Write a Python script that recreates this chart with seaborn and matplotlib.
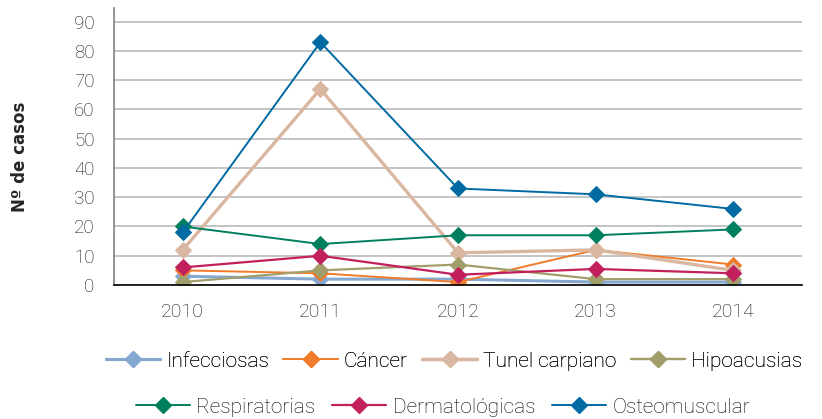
import numpy as np
import pandas as pd
import matplotlib
matplotlib.use('Agg')
import matplotlib.pyplot as plt
import seaborn as sns
from matplotlib.lines import Line2D

# Data
years = ['2010', '2011', '2012', '2013', '2014']
infecciosas = [3, 2, 2, 1, 1]
cancer = [5, 4, 1, 12, 7]
tunel_carpiano = [12, 67, 11, 12, 5]
hipoacusias = [1, 5, 7, 2, 2]
respiratorias = [20, 14, 17, 17, 19]
dermatologicas = [6, 10, 3.5, 5.5, 4]
osteomuscular = [18, 83, 33, 31, 26]

series_names = ['Infecciosas', 'Cáncer', 'Tunel carpiano', 'Hipoacusias',
                'Respiratorias', 'Dermatológicas', 'Osteomuscular']
series_values = [infecciosas, cancer, tunel_carpiano, hipoacusias,
                 respiratorias, dermatologicas, osteomuscular]
colors = ['#84A8CF', '#F07B2A', '#D9B7A1', '#A29E6B',
          '#007F5F', '#C2205D', '#006AA2']
widths = [2.2, 1.4, 2.4, 1.6, 1.4, 1.6, 1.4]

rows = []
for name, vals in zip(series_names, series_values):
    for i, v in enumerate(vals):
        rows.append({'serie': name, 'pos': i, 'casos': v})
df = pd.DataFrame(rows)

sns.set_style('white')
plt.rcParams['font.family'] = ['Roboto', 'DejaVu Sans']
plt.rcParams['font.weight'] = 'light'

fig = plt.figure(figsize=(8.22, 4.19), dpi=100)
ax = fig.add_axes([114 / 822, 1 - 285 / 419, (802 - 114) / 822, (285 - 8) / 419])

for name, col, lw in zip(series_names, colors, widths):
    sub = df[df['serie'] == name]
    sns.lineplot(data=sub, x='pos', y='casos', ax=ax, color=col, linewidth=lw,
                 marker='D', markersize=8, markeredgecolor=col, legend=False)

ax.set_xlim(-0.5, 4.5)
ax.set_ylim(0, 94.7)
ax.set_yticks(range(0, 91, 10))
ax.set_xticks(range(len(years)))
ax.set_xticklabels(years)
ax.set_xticks([-0.5], minor=True)
ax.grid(axis='y', color='#BFBFBF', linewidth=1.3)
ax.set_axisbelow(True)
ax.set_xlabel('')
ax.set_ylabel('')

for s in ['top', 'right']:
    ax.spines[s].set_visible(False)
ax.spines['left'].set_color('#808080')
ax.spines['left'].set_linewidth(1.2)
ax.spines['bottom'].set_color('#000000')
ax.spines['bottom'].set_linewidth(1.2)

ax.tick_params(axis='x', which='both', direction='out', length=7, width=1,
               color='#333333', labelsize=14, labelcolor='#111111', pad=6)
ax.tick_params(axis='y', length=0, labelsize=13.5, labelcolor='#111111', pad=14)

fig.text(20 / 822, 1 - 157 / 419, 'Nº de casos', rotation=90, ha='center', va='center',
         fontsize=12, fontweight='bold', family=['DejaVu Sans'])

handles = [Line2D([0], [0], color=c, linewidth=lw, marker='D', markersize=8,
                  markeredgecolor=c) for c, lw in zip(colors, widths)]

leg1 = fig.legend(handles[:4], series_names[:4], loc='center', ncol=4,
                  bbox_to_anchor=(454 / 822, 1 - 361 / 419), frameon=False,
                  fontsize=15, handlelength=2.6, handletextpad=0.3,
                  columnspacing=0.7, labelcolor='#000000')
leg2 = fig.legend(handles[4:], series_names[4:], loc='center', ncol=3,
                  bbox_to_anchor=(443 / 822, 1 - 407 / 419), frameon=False,
                  fontsize=15, handlelength=2.6, handletextpad=0.3,
                  columnspacing=0.8, labelcolor='#000000')
fig.add_artist(leg1)

fig.savefig('out.png', dpi=100)
